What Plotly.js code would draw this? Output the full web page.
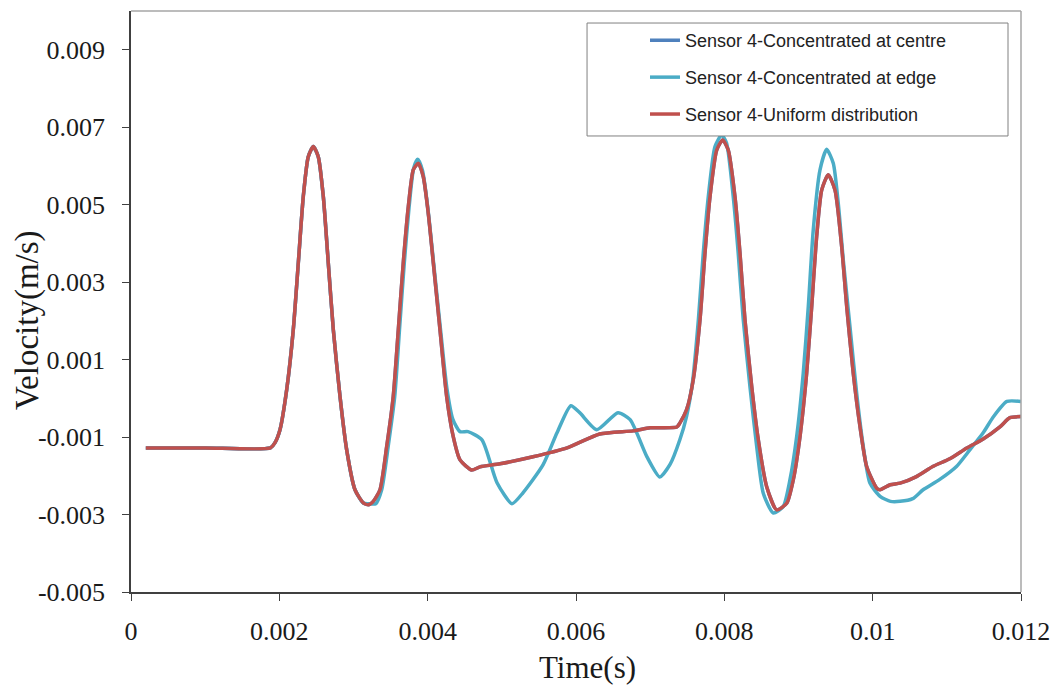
<!DOCTYPE html>
<html>
<head>
<meta charset="utf-8">
<script src="https://cdn.plot.ly/plotly-3.0.1.min.js"></script>
<style>
  html, body { margin: 0; padding: 0; background: #ffffff; }
  #chart { width: 1062px; height: 691px; }
</style>
</head>
<body>
<div id="chart"></div>
<script>
// Time (s) and velocity (m/s) values
const seriesNames = [
  "Sensor 4-Concentrated at centre",
  "Sensor 4-Concentrated at edge",
  "Sensor 4-Uniform distribution"
];

const timeUniform = [0.0002, 0.001, 0.00188, 0.00194, 0.002009, 0.002099, 0.002188, 0.002256, 0.002323, 0.00239,
  0.002458, 0.002525, 0.002593, 0.00266, 0.002728, 0.002818, 0.002908, 0.00302, 0.003132, 0.0032,
  0.003267, 0.003357, 0.003448, 0.003536, 0.003604, 0.003671, 0.003739, 0.003806, 0.003874, 0.003941,
  0.004008, 0.004076, 0.004166, 0.004256, 0.004345, 0.004436, 0.004594, 0.004705, 0.004975, 0.00542,
  0.00588, 0.00632, 0.00677, 0.007, 0.00736, 0.0074, 0.00749, 0.007581, 0.007672, 0.007739,
  0.007807, 0.007897, 0.007978, 0.008053, 0.008143, 0.008211, 0.008278, 0.008369, 0.008458, 0.008571,
  0.008706, 0.008841, 0.00893, 0.00902, 0.00911, 0.009178, 0.009245, 0.009313, 0.009401, 0.009492,
  0.009582, 0.00965, 0.009738, 0.009829, 0.009919, 0.010054, 0.0101, 0.010236, 0.01037, 0.01059,
  0.01081, 0.01104, 0.01127, 0.01149, 0.01172, 0.01185, 0.012];

const velUniform = [-0.00128, -0.00128, -0.00128, -0.00115, -0.00081, 0.00022, 0.00177, 0.0035, 0.00521, 0.00624,
  0.0065, 0.00624, 0.00521, 0.0035, 0.00177, 0.00005, -0.00133, -0.00236, -0.0027, -0.00275,
  -0.00266, -0.00236, -0.00124, 0.00005, 0.00177, 0.0035, 0.00495, 0.0059, 0.00607, 0.00572,
  0.00478, 0.0035, 0.00177, 0.00005, -0.00099, -0.00159, -0.00185, -0.00177, -0.00169, -0.00151,
  -0.00128, -0.00092, -0.00084, -0.00076, -0.00074, -0.00064, -0.0003, 0.00048, 0.00203, 0.00375,
  0.00521, 0.00641, 0.00667, 0.00641, 0.00521, 0.00375, 0.00203, 0.00031, -0.00107, -0.00228,
  -0.00288, -0.00271, -0.0021, -0.00099, 0.00065, 0.00237, 0.00418, 0.00538, 0.00577, 0.00538,
  0.00392, 0.00237, 0.00065, -0.00073, -0.00176, -0.00232, -0.00236, -0.00223, -0.00219, -0.00202,
  -0.00176, -0.00156, -0.00128, -0.00105, -0.00073, -0.0005, -0.00047];

// Centre-loaded series coincides with the uniform one (hidden beneath it)
const timeCentre = timeUniform.slice();
const velCentre = velUniform.slice();

const timeEdge = [0.0002, 0.001, 0.00188, 0.00194, 0.002009, 0.002099, 0.002188, 0.002256, 0.002323, 0.00239,
  0.002458, 0.002525, 0.002593, 0.00266, 0.002728, 0.002818, 0.002908, 0.00302, 0.003132, 0.0032,
  0.0033, 0.00338, 0.003468, 0.003556, 0.00362, 0.003685, 0.00375, 0.003812, 0.003866, 0.00393,
  0.004, 0.00408, 0.00418, 0.00426, 0.004341, 0.004436, 0.004544, 0.004732, 0.004935, 0.005137,
  0.005285, 0.005555, 0.005744, 0.00593, 0.00605, 0.00628, 0.006566, 0.00673, 0.006957, 0.00713,
  0.00727, 0.0074, 0.00749, 0.00757, 0.00765, 0.007716, 0.007784, 0.007874, 0.007964, 0.00803,
  0.00812, 0.008187, 0.008255, 0.008345, 0.008436, 0.008525, 0.00866, 0.008795, 0.008885, 0.008975,
  0.009064, 0.009132, 0.009199, 0.00929, 0.00938, 0.009469, 0.009536, 0.009604, 0.009694, 0.009784,
  0.009873, 0.009963, 0.0101, 0.01024, 0.01037, 0.01054, 0.01068, 0.0109, 0.01113, 0.01131,
  0.01149, 0.01163, 0.01181, 0.012];

const velEdge = [-0.00128, -0.00128, -0.00128, -0.00115, -0.00081, 0.00022, 0.00177, 0.0035, 0.00521, 0.00624,
  0.0065, 0.00624, 0.00521, 0.0035, 0.00177, 0.00005, -0.00133, -0.00236, -0.0027, -0.00272,
  -0.00272, -0.00236, -0.00124, 0.00005, 0.00177, 0.0035, 0.00495, 0.00595, 0.00617, 0.00588,
  0.00495, 0.0035, 0.00165, 0.00025, -0.00055, -0.00086, -0.00086, -0.00107, -0.00218, -0.00272,
  -0.00244, -0.00172, -0.00089, -0.00019, -0.00037, -0.00081, -0.00037, -0.00055, -0.00151, -0.00203,
  -0.0017, -0.00107, -0.00047, 0.0004, 0.00203, 0.00375, 0.00521, 0.0065, 0.0068, 0.00659,
  0.00521, 0.00375, 0.00203, 0.00031, -0.00124, -0.00245, -0.00296, -0.00279, -0.0021, -0.00099,
  0.00065, 0.00237, 0.00435, 0.0059, 0.00643, 0.00607, 0.00504, 0.00357, 0.00185, 0.00013,
  -0.00124, -0.00219, -0.00253, -0.00266, -0.00266, -0.00259, -0.00236, -0.0021, -0.00176, -0.00133,
  -0.00089, -0.00047, -0.00008, -0.00008];

const xTickVals = [0, 0.002, 0.004, 0.006, 0.008, 0.01, 0.012];
const xTickText = ["0", "0.002", "0.004", "0.006", "0.008", "0.01", "0.012"];
const yTickVals = [-0.005, -0.003, -0.001, 0.001, 0.003, 0.005, 0.007, 0.009];
const yTickText = ["-0.005", "-0.003", "-0.001", "0.001", "0.003", "0.005", "0.007", "0.009"];
const xTitle = "Time(s)";
const yTitle = "Velocity(m/s)";

const colors = ["#4F81BD", "#4BACC6", "#C0504D"];

const lineOpts = (c) => ({ color: c, width: 3.5, shape: "spline", smoothing: 0.6 });

const traces = [
  { x: timeCentre, y: velCentre, name: seriesNames[0], mode: "lines", line: lineOpts(colors[0]), legendgroup: "a" },
  { x: timeEdge, y: velEdge, name: seriesNames[1], mode: "lines", line: lineOpts(colors[1]), legendgroup: "b" },
  { x: timeUniform, y: velUniform, name: seriesNames[2], mode: "lines", line: lineOpts(colors[2]), legendgroup: "c" }
];

const serif = "Liberation Serif, Times New Roman, serif";

const layout = {
  width: 1062,
  height: 691,
  paper_bgcolor: "#ffffff",
  plot_bgcolor: "#ffffff",
  margin: { l: 131, r: 41, t: 11, b: 99 },
  showlegend: true,
  legend: {
    x: 0.5775, y: 0.981, xanchor: "left", yanchor: "top",
    bgcolor: "rgba(0,0,0,0)", borderwidth: 0,
    font: { family: "Liberation Sans, Arial, sans-serif", size: 18, color: "#222222" },
    traceorder: "grouped", tracegroupgap: 10.5
  },
  xaxis: {
    range: [0, 0.012],
    tickvals: xTickVals, ticktext: xTickText,
    ticks: "outside", ticklen: 7, tickcolor: "#404040", tickwidth: 1,
    showline: true, linecolor: "#404040", linewidth: 1.5,
    showgrid: false, zeroline: false,
    tickfont: { family: serif, size: 26, color: "#1a1a1a" },
    ticklabelstandoff: 8
  },
  yaxis: {
    range: [-0.005, 0.01],
    tickvals: yTickVals, ticktext: yTickText,
    ticks: "outside", ticklen: 7, tickcolor: "#404040", tickwidth: 1,
    showline: true, linecolor: "#404040", linewidth: 1.5,
    showgrid: false, zeroline: false,
    tickfont: { family: serif, size: 26, color: "#1a1a1a" },
    ticklabelstandoff: 12
  },
  annotations: [
    { text: xTitle, xref: "paper", yref: "paper", x: 0.5124, y: -0.1308, xanchor: "center", yanchor: "middle",
      showarrow: false, font: { family: serif, size: 31, color: "#1a1a1a" } },
    { text: yTitle, xref: "paper", yref: "paper", x: -0.1169, y: 0.468, xanchor: "center", yanchor: "middle",
      textangle: -90, showarrow: false, font: { family: serif, size: 33, color: "#1a1a1a" } }
  ],
  shapes: [
    { type: "line", xref: "paper", yref: "paper", x0: 0, x1: 1, y0: 1, y1: 1, line: { color: "#a6a6a6", width: 1.5 } },
    { type: "line", xref: "paper", yref: "paper", x0: 1, x1: 1, y0: 0, y1: 1, line: { color: "#a6a6a6", width: 1.5 } },
    { type: "rect", xref: "paper", yref: "paper", x0: 0.5124, x1: 0.9854, y0: 0.7849, y1: 0.9793,
      line: { color: "#808080", width: 1 }, fillcolor: "#ffffff", layer: "above" }
  ]
};

Plotly.newPlot("chart", traces, layout, { displayModeBar: false, responsive: false });
</script>
</body>
</html>
